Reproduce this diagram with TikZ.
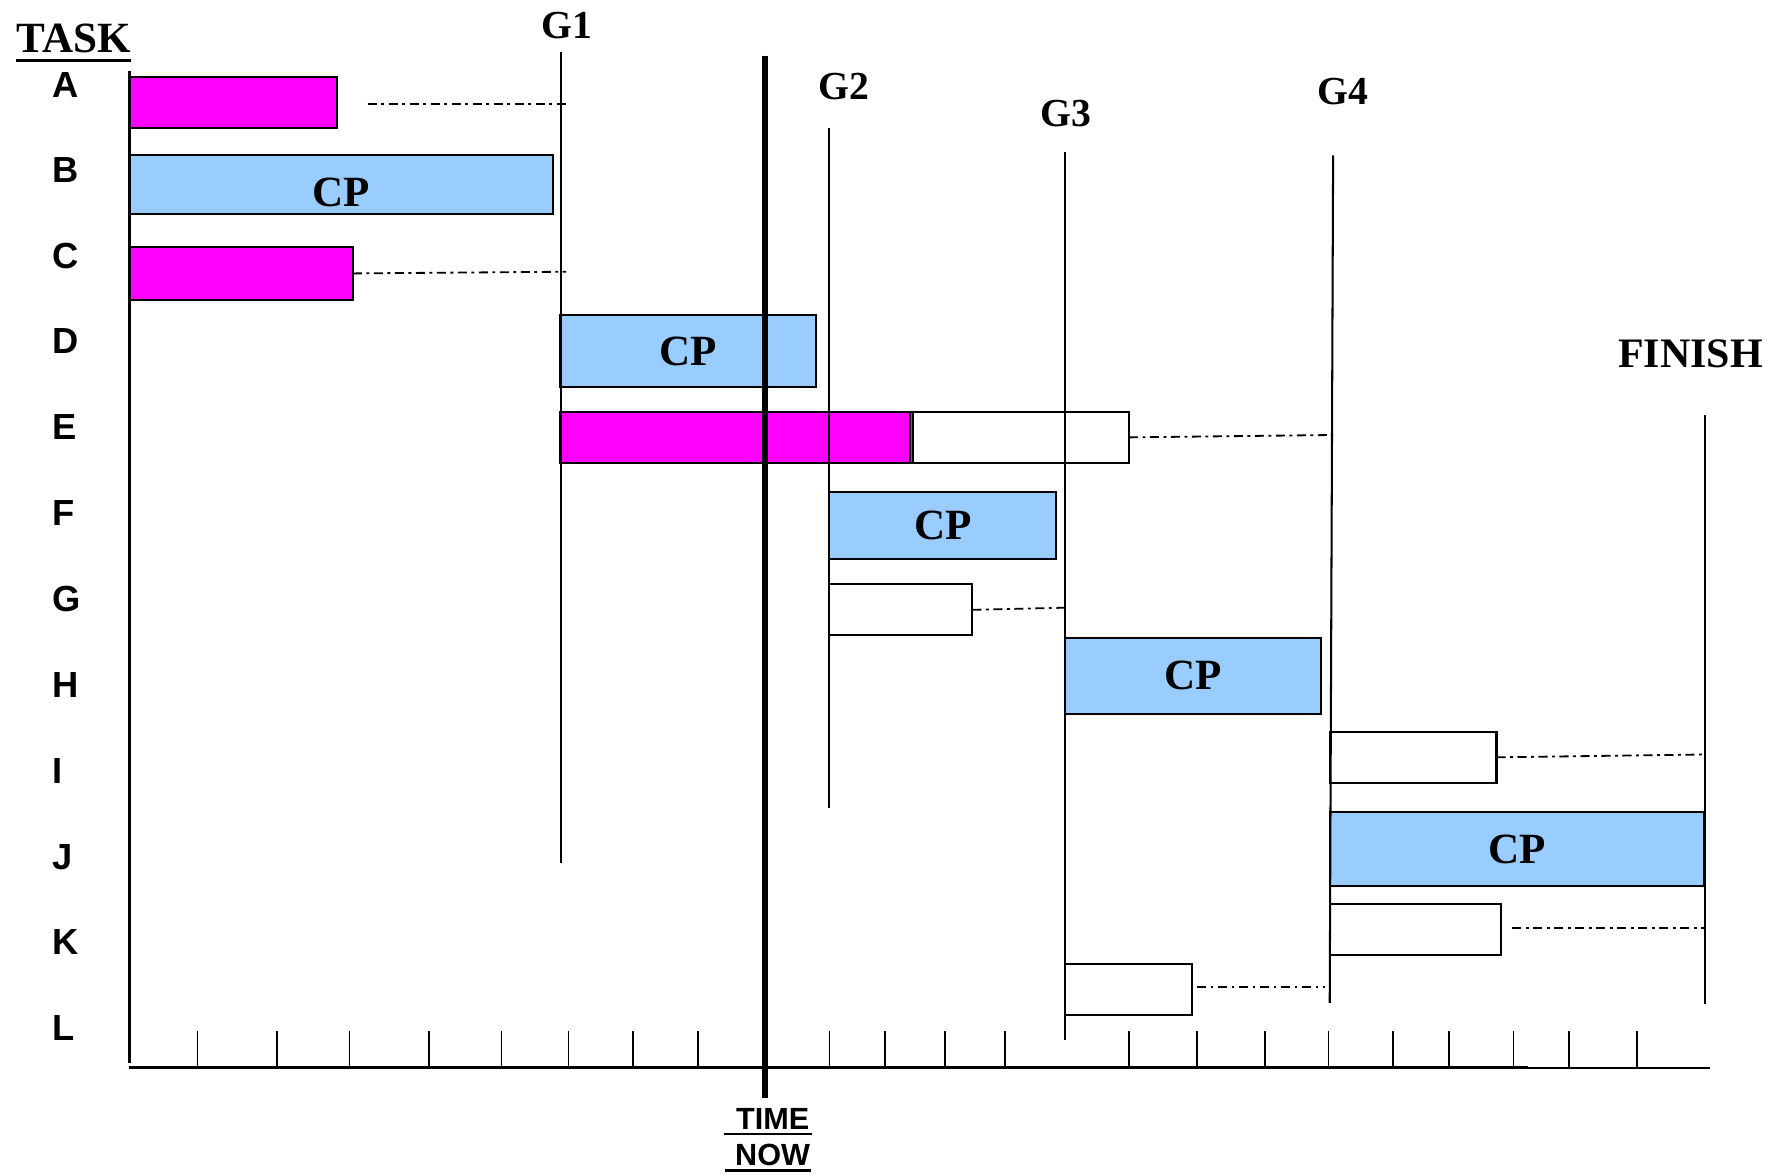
\documentclass[tikz,border=0pt]{standalone}
\usepackage{fontspec}
\setmainfont{Liberation Serif}
\newfontfamily\arialfont{Liberation Sans}
\definecolor{magbar}{HTML}{FF00FF}
\definecolor{cpblue}{HTML}{99CCFF}
\begin{document}
\begin{tikzpicture}[x=1pt,y=-1pt,
  barbase/.style={draw=black, line width=1.8pt, inner sep=0pt, outer sep=0pt, anchor=north west},
  magbox/.style={barbase, fill=magbar},
  cpbox/.style={barbase, fill=cpblue, font=\fontsize{38}{38}\selectfont\bfseries},
  whitebox/.style={barbase, fill=white},
  rowlabel/.style={anchor=base west, inner sep=0pt, font=\arialfont\bfseries\fontsize{32}{32}\selectfont},
  glabel/.style={inner sep=0pt, font=\bfseries\fontsize{35}{35}\selectfont},
  gline/.style={line width=1.8pt},
  ddline/.style={line width=1.6pt, dash pattern=on 8pt off 4pt on 2.5pt off 4pt},
  tick/.style={line width=1.4pt},
  ul/.style={line width=2.5pt}
]
\useasboundingbox (0,0) rectangle (1568,1035);

% title
\node[inner sep=0pt, font=\bfseries\fontsize{38}{38}\selectfont] (task) at (65,34) {TASK};
\draw[ul] ([yshift=-6pt]task.south west) -- ([yshift=-6pt]task.south east);

% row labels
\node[rowlabel] (lA) at (46,85.5) {A};
\node[rowlabel] (lB) at (46,161) {B};
\node[rowlabel] (lC) at (46,236.5) {C};
\node[rowlabel] (lD) at (46,312) {D};
\node[rowlabel] (lE) at (46,387.5) {E};
\node[rowlabel] (lF) at (46,463) {F};
\node[rowlabel] (lG) at (46,539) {G};
\node[rowlabel] (lH) at (46,615) {H};
\node[rowlabel] (lI) at (46,690.5) {I};
\node[rowlabel] (lJ) at (46,766) {J};
\node[rowlabel] (lK) at (46,841.5) {K};
\node[rowlabel] (lL) at (46,917) {L};

% bars
\node[magbox, minimum width=183pt, minimum height=45pt] (bA) at (114,68) {};
\node[cpbox, minimum width=373pt, minimum height=52pt] (bB) at (114,137) {\raisebox{-6pt}[\height][0pt]{CP}};
\node[magbox, minimum width=197pt, minimum height=46pt] (bC) at (114,218) {};
\node[cpbox, minimum width=225pt, minimum height=63pt] (bD) at (494,278) {CP};
\node[magbox, minimum width=311pt, minimum height=45pt] (bE) at (494,363) {};
\node[whitebox, minimum width=190pt, minimum height=45pt] (bE2) at (805,363) {};
\draw[line width=1pt] ([xshift=-3pt]bE2.north west) -- ([xshift=-3pt]bE2.south west);
\node[cpbox, minimum width=200pt, minimum height=59pt] (bF) at (731,434) {CP};
\node[whitebox, minimum width=126pt, minimum height=45pt] (bG) at (731,515) {};
\node[cpbox, minimum width=225pt, minimum height=67pt] (bH) at (939,562) {CP};
\node[whitebox, minimum width=147pt, minimum height=45pt] (bI) at (1172,645) {};
\node[cpbox, minimum width=330pt, minimum height=65pt] (bJ) at (1172,716) {CP};
\node[whitebox, minimum width=151pt, minimum height=45pt] (bK) at (1172,797) {};
\node[whitebox, minimum width=112pt, minimum height=45pt] (bL) at (939,850) {};

% milestone lines
\coordinate (g1t) at (494.5,46);  \coordinate (g1b) at (494.5,761);
\coordinate (g2t) at (731,113);   \coordinate (g2b) at (731,712);
\coordinate (g3t) at (939,134);   \coordinate (g3b) at (939,917);
\coordinate (g4t) at (1175,137);  \coordinate (g4b) at (1172,884);
\coordinate (fint) at (1502.5,366); \coordinate (finb) at (1502.5,885);
\draw[gline] (g1t) -- (g1b);
\draw[gline] (g2t) -- (g2b);
\draw[gline] (g3t) -- (g3b);
\draw[gline] (g4t) -- (g4b);
\draw[gline] (fint) -- (finb);

\node[glabel] (G1) at (500,22.5) {G1};
\node[glabel] (G2) at (743.5,76.5) {G2};
\node[glabel] (G3) at (939.5,100.5) {G3};
\node[glabel] (G4) at (1184,80.5) {G4};
\node[inner sep=0pt, font=\bfseries\fontsize{37}{37}\selectfont] (finish) at (1490,312) {FINISH};

% float (dash-dot) lines
\coordinate (dAs) at (324,91.4);  \coordinate (dAe) at (502,91.4);
\coordinate (dCe) at (499,239.5);
\coordinate (dEe) at (1175,383.4);
\coordinate (dGe) at (939,535.6);
\coordinate (dIe) at (1502,665);
\coordinate (dKs) at (1333,818); \coordinate (dKe) at (1502,818);
\coordinate (dLs) at (1055,870); \coordinate (dLe) at (1168,870);
\draw[ddline] (dAs) -- (dAe);
\draw[ddline] (bC.east) -- (dCe);
\draw[ddline] (bE2.east) -- (dEe);
\draw[ddline] (bG.east) -- (dGe);
\draw[ddline] (bI.east) -- (dIe);
\draw[ddline] (dKs) -- (dKe);
\draw[ddline] (dLs) -- (dLe);

% axes
\coordinate (yaxt) at (114,63);  \coordinate (orig) at (114,941);
\coordinate (yaxb) at (114,937);
\coordinate (xthick) at (1347,941); \coordinate (xend) at (1507,941);
\draw[line width=3pt] (yaxt) -- (yaxb);
\draw[line width=3.2pt] (orig) -- (xthick);
\draw[line width=1.8pt] (xthick) -- (xend);
\foreach \tx in {174,244,308,378,442,501,558,615,731,780,833,886,995,1055,1115,1171,1228,1277,1334,1383,1443}
  \draw[tick] (\tx,909) -- (\tx,941);

% time now
\coordinate (tnt) at (674.5,49); \coordinate (tnb) at (674.5,968);
\draw[line width=5.5pt] (tnt) -- (tnb);
\node[inner sep=0pt, font=\arialfont\bfseries\fontsize{27}{27}\selectfont] (time) at (681,986) {TIME};
\node[inner sep=0pt, font=\arialfont\bfseries\fontsize{27}{27}\selectfont] (now) at (681,1018) {NOW};
\draw[ul] ([xshift=-10pt,yshift=-4pt]time.south west) -- ([xshift=2pt,yshift=-4pt]time.south east);
\draw[ul] ([xshift=-9pt,yshift=-4pt]now.south west) -- ([xshift=1pt,yshift=-4pt]now.south east);
\end{tikzpicture}
\end{document}
